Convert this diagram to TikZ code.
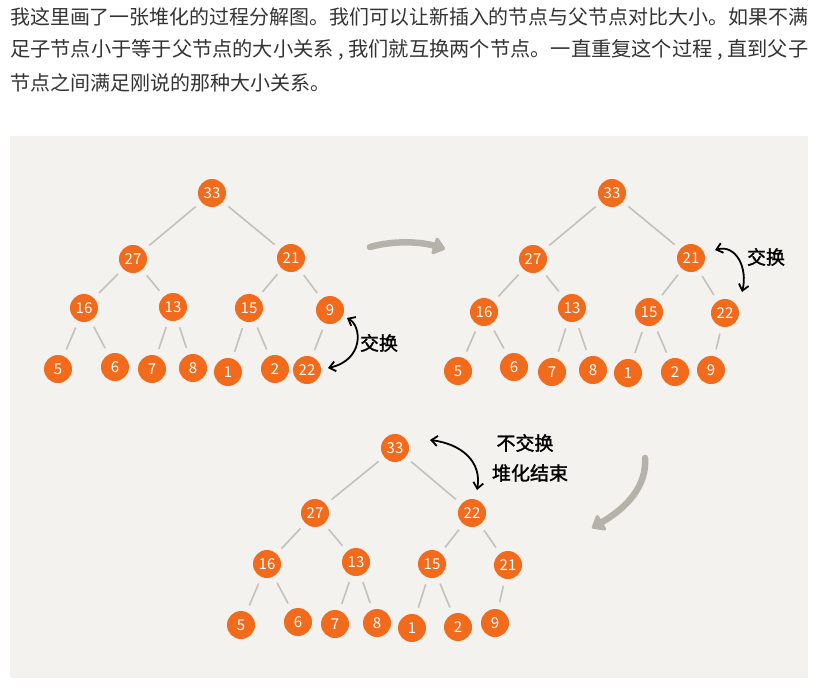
\documentclass[tikz,border=0pt]{standalone}
\usepackage{fontspec}
\setmainfont{Noto Sans CJK SC}
\newfontfamily\lblfont[FakeBold=1.5]{Noto Sans CJK SC}
\usetikzlibrary{arrows.meta}
\definecolor{bg}{HTML}{F3F2EE}
\definecolor{nodeor}{HTML}{F26A1B}
\definecolor{edgegray}{HTML}{C2C1BC}
\definecolor{bigarrow}{HTML}{B4B2A9}
\definecolor{txt}{HTML}{333333}
\begin{document}
\begin{tikzpicture}[x=1pt,y=-1pt,
 hn/.style={circle,fill=nodeor,minimum size=28pt,inner sep=0pt,text=white,font=\fontsize{15}{15}\selectfont},
 tedge/.style={edgegray,line width=1.6pt,shorten <=7pt,shorten >=7pt},
 swaparrow/.style={black,line width=1.8pt,{Straight Barb[length=6pt,width=10pt]}-{Straight Barb[length=6pt,width=10pt]}},
 bigarr/.style={bigarrow,line width=6.5pt,line cap=round,-{Triangle[length=13pt,width=20pt,round]}},
 lbl/.style={font=\lblfont\fontsize{19}{22}\selectfont,text=black,inner sep=0pt},
 para/.style={anchor=west,inner sep=0pt,font=\fontsize{20}{24}\selectfont,text=txt}]
\useasboundingbox (0,0) rectangle (820,691);
\node[para] (p1) at (10,17) {\resizebox{798pt}{!}{我这里画了一张堆化的过程分解图。我们可以让新插入的节点与父节点对比大小。如果不满}};
\node[para] (p2) at (10,50) {\resizebox{798pt}{!}{足子节点小于等于父节点的大小关系 , 我们就互换两个节点。一直重复这个过程 , 直到父子}};
\node[para] (p3) at (10,83) {节点之间满足刚说的那种大小关系。};
\fill[bg] (10,136) rectangle (808,678);

% ---------- tree 1 ----------
\node[hn] (a33) at (212,193) {33};
\node[hn] (a27) at (133,259) {27};
\node[hn] (a21) at (291,258) {21};
\node[hn] (a16) at (84,308) {16};
\node[hn] (a13) at (173,307) {13};
\node[hn] (a15) at (249,308) {15};
\node[hn] (a9) at (330,310) {9};
\node[hn] (a5) at (58,369) {5};
\node[hn] (a6) at (115,367) {6};
\node[hn] (a7) at (152,369) {7};
\node[hn] (a8) at (193,368) {8};
\node[hn] (a1) at (228,372) {1};
\node[hn] (a2) at (275,369) {2};
\node[hn] (a22) at (307,370) {22};
\foreach \u/\v in {a33/a27,a33/a21,a27/a16,a27/a13,a21/a15,a21/a9,a16/a5,a16/a6,a13/a7,a13/a8,a15/a1,a15/a2,a9/a22}
  \draw[tedge] (\u) -- (\v);
\draw[swaparrow] ([shift={(17,8)}]a9.center) .. controls (362,326) and (364,360) .. ([shift={(21,-2)}]a22.center);
\node[lbl] (la) at (379,343) {交换};

% ---------- tree 2 ----------
\node[hn] (b33) at (612,193) {33};
\node[hn] (b27) at (533,259) {27};
\node[hn] (b21) at (691,258) {21};
\node[hn] (b16) at (484,312) {16};
\node[hn] (b13) at (572,308) {13};
\node[hn] (b15) at (649,312) {15};
\node[hn] (b22) at (725,313) {22};
\node[hn] (b5) at (458,371) {5};
\node[hn] (b6) at (514,367) {6};
\node[hn] (b7) at (552,372) {7};
\node[hn] (b8) at (593,370) {8};
\node[hn] (b1) at (628,373) {1};
\node[hn] (b2) at (675,372) {2};
\node[hn] (b9) at (711,370) {9};
\foreach \u/\v in {b33/b27,b33/b21,b27/b16,b27/b13,b21/b15,b21/b22,b16/b5,b16/b6,b13/b7,b13/b8,b15/b1,b15/b2,b22/b9}
  \draw[tedge] (\u) -- (\v);
\draw[swaparrow] ([shift={(24,-8)}]b21.center) .. controls (736,244) and (748,268) .. ([shift={(17,-21)}]b22.center);
\node[lbl] (lb) at (766,257) {交换};

% ---------- tree 3 ----------
\node[hn] (c33) at (395,448) {33};
\node[hn] (c27) at (315,513) {27};
\node[hn] (c22) at (472,513) {22};
\node[hn] (c16) at (267,564) {16};
\node[hn] (c13) at (356,562) {13};
\node[hn] (c15) at (432,564) {15};
\node[hn] (c21) at (508,565) {21};
\node[hn] (c5) at (241,625) {5};
\node[hn] (c6) at (298,622) {6};
\node[hn] (c7) at (335,624) {7};
\node[hn] (c8) at (377,623) {8};
\node[hn] (c1) at (412,628) {1};
\node[hn] (c2) at (458,627) {2};
\node[hn] (c9) at (495,623) {9};
\foreach \u/\v in {c33/c27,c33/c22,c27/c16,c27/c13,c22/c15,c22/c21,c16/c5,c16/c6,c13/c7,c13/c8,c15/c1,c15/c2,c21/c9}
  \draw[tedge] (\u) -- (\v);
\draw[swaparrow] ([shift={(35,-8)}]c33.center) .. controls (462,444) and (482,462) .. ([shift={(5,-23)}]c22.center);
\node[lbl] (lc1) at (525,443) {不交换};
\node[lbl] (lc2) at (530,473) {堆化结束};

% ---------- big arrows ----------
\coordinate (g1s) at (370,247);
\coordinate (g1e) at (445,249);
\draw[bigarr] (g1s) .. controls (395,240) and (422,242) .. (g1e);
\coordinate (g2s) at (645,458);
\coordinate (g2e) at (592,528);
\draw[bigarr] (g2s) .. controls (647,485) and (628,507) .. (g2e);
\end{tikzpicture}
\end{document}
